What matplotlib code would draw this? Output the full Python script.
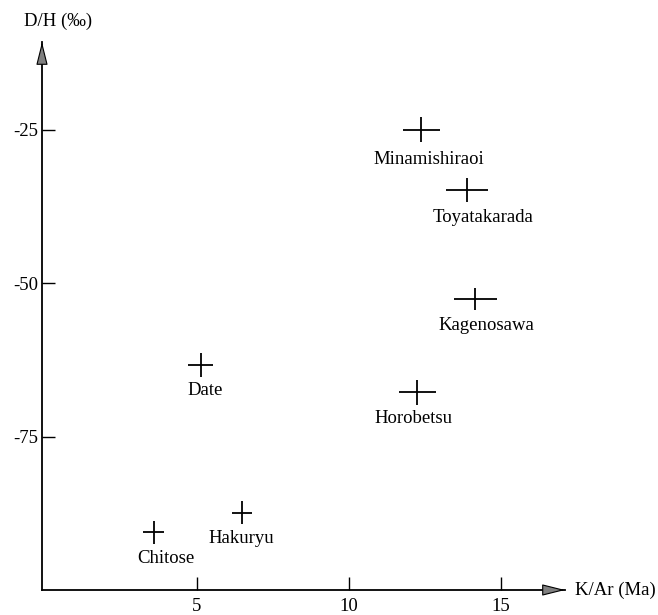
import matplotlib
matplotlib.use("Agg")
import matplotlib.pyplot as plt

# ---- data ----
sites = ["Minamishiraoi", "Toyatakarada", "Kagenosawa", "Horobetsu",
         "Date", "Hakuryu", "Chitose"]
kar_age = [12.38, 13.88, 14.15, 12.25, 5.13, 6.48, 3.59]        # Ma
kar_err = [0.60, 0.69, 0.70, 0.60, 0.41, 0.33, 0.34]           # Ma
dh = [-25.0, -34.8, -52.6, -67.8, -63.3, -87.4, -90.6]         # per mil
dh_err = [2.0, 2.0, 1.8, 2.0, 2.0, 1.9, 1.9]
x_ticks = [5, 10, 15]
y_ticks = [-25, -50, -75]

# label offsets in pixels (dx, dy) relative to the point
label_off = [(8, -30), (16, -28), (11, -26), (-4, -26), (5, -26), (0, -26), (12, -26)]

plt.rcParams['font.family'] = ['Liberation Serif', 'DejaVu Serif']
FS = 13.5

fig = plt.figure(figsize=(6.58, 6.15), dpi=100)
ax = fig.add_axes([42/658, 1-590/615, (565-42)/658, (590-42)/615])
ax.set_xlim(-0.08, 17.1)
ax.set_ylim(-100, -10.7)

ax.errorbar(kar_age, dh, xerr=kar_err, yerr=dh_err, fmt='none',
            ecolor='black', elinewidth=1.3, capsize=0)

for name, x, y, (dx, dy) in zip(sites, kar_age, dh, label_off):
    ax.annotate(name, (x, y), xytext=(dx*0.72, dy*0.72), textcoords='offset points',
                ha='center', va='center', fontsize=FS)

for s in ['top', 'right']:
    ax.spines[s].set_visible(False)
for s in ['left', 'bottom']:
    ax.spines[s].set_linewidth(1.3)

ax.set_xticks(x_ticks)
ax.set_yticks(y_ticks)
ax.set_xticklabels([str(t) for t in x_ticks])
ax.set_yticklabels([str(t) for t in y_ticks])
ax.tick_params(direction='in', length=9.4, width=1.0, labelsize=FS)
ax.tick_params(axis='x', pad=5.5)
ax.tick_params(axis='y', pad=3)

# axis arrowheads
ap = dict(arrowstyle='-|>,head_length=1.2,head_width=0.3', fc='#808080', ec='black',
          lw=0.8, shrinkA=0, shrinkB=0, mutation_scale=12)
ax.annotate('', xy=(0, 1.0), xytext=(0, 0.965), xycoords='axes fraction',
            arrowprops=ap, annotation_clip=False)
ax.annotate('', xy=(1.0, 0), xytext=(0.965, 0), xycoords='axes fraction',
            arrowprops=ap, annotation_clip=False)

ax.annotate('D/H (‰)', xy=(0, 1), xycoords='axes fraction', xytext=(11.5, 15),
            textcoords='offset points', ha='center', va='center', fontsize=FS,
            annotation_clip=False)
ax.text(1.02, 0, 'K/Ar (Ma)', transform=ax.transAxes, ha='left', va='center',
        fontsize=FS)

fig.savefig('out.png', dpi=100)
